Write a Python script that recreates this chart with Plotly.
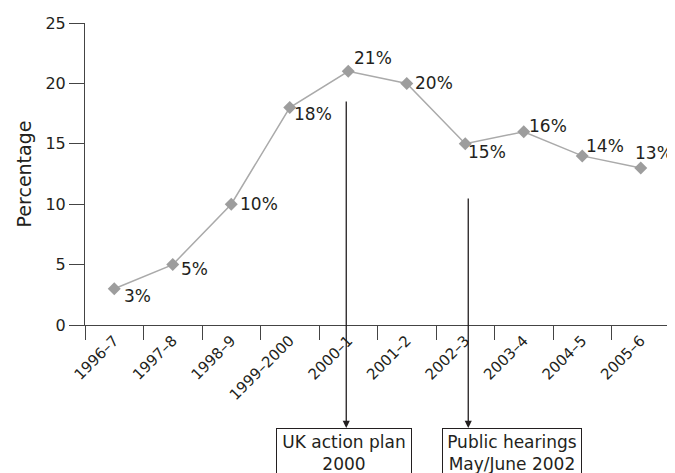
import plotly.graph_objects as go

years = ["1996–7", "1997–8", "1998–9", "1999–2000", "2000–1", "2001–2",
         "2002–3", "2003–4", "2004–5", "2005–6"]
percentages = [3, 5, 10, 18, 21, 20, 15, 16, 14, 13]
labels = [f"{v}%" for v in percentages]
# pixel offsets (dx, dy-up) of each value label from its point
label_offsets = [(23, -7), (22, -4), (28, 0), (23, -6), (25, 13),
                 (27, 0), (22, -8), (24, 6), (23, 10), (13, 15)]

event_years = ["2000–1", "2002–3"]
event_texts = ["UK action plan<br>2000", "Public hearings<br>May/June 2002"]
event_tails = [-328, -231]
event_arrow_shift = [-2, 3]
event_box_shift = [-4, 47]
event_box_width = [128, 132]

FONT = "DejaVu Sans, sans-serif"
INK = "#231f20"
AX = "#444444"

fig = go.Figure()
fig.add_trace(go.Scatter(
    x=years, y=percentages, mode="lines+markers",
    line=dict(color="#aaaaaa", width=1.5),
    marker=dict(symbol="diamond", size=10, color="#9d9d9d"),
    cliponaxis=False, showlegend=False, hoverinfo="skip",
))

annotations = []
for cat, val, lab, (dx, dy) in zip(years, percentages, labels, label_offsets):
    annotations.append(dict(
        x=cat, y=val, xref="x", yref="y", text=lab, showarrow=False,
        xshift=dx, yshift=dy, xanchor="center", yanchor="middle",
        font=dict(family=FONT, size=17, color=INK),
    ))

for cat, txt, tail, ash, bsh, bw in zip(event_years, event_texts, event_tails,
                                        event_arrow_shift, event_box_shift, event_box_width):
    annotations.append(dict(
        x=cat, xref="x", y=-0.341, yref="paper", xshift=ash,
        ax=0, ay=tail, showarrow=True, text="",
        arrowhead=2, arrowsize=1.1, arrowwidth=1.3, arrowcolor=INK,
    ))
    annotations.append(dict(
        x=cat, xref="x", y=-0.341, yref="paper", yanchor="top", xshift=bsh,
        showarrow=False, text=txt, align="center", width=bw,
        font=dict(family=FONT, size=17, color=INK),
        bordercolor=INK, borderwidth=1, borderpad=3, bgcolor="white",
    ))

# page body has an 8px default margin, so the figure is 8px smaller than the window
fig.update_layout(
    width=667, height=465,
    margin=dict(l=77, r=5, t=15, b=148),
    paper_bgcolor="white", plot_bgcolor="white",
    font=dict(family=FONT, color=INK),
    annotations=annotations,
    xaxis=dict(
        type="category", range=[-0.5, 9.5], tickson="boundaries",
        ticks="outside", ticklen=14, tickcolor=AX, tickwidth=1,
        showline=True, linecolor=AX, linewidth=1, automargin=False,
        showgrid=False, zeroline=False, tickangle=-45,
        tickfont=dict(family=FONT, size=15, color=INK),
    ),
    yaxis=dict(
        range=[0, 25], tickvals=[0, 5, 10, 15, 20, 25],
        ticks="outside", ticklen=15, tickcolor=AX, tickwidth=1,
        showline=True, linecolor=AX, linewidth=1, automargin=False,
        showgrid=False, zeroline=False,
        tickfont=dict(family=FONT, size=16, color=INK),
        title=dict(text="Percentage", font=dict(family=FONT, size=19, color=INK), standoff=8),
    ),
)

fig.write_html("out.html")
